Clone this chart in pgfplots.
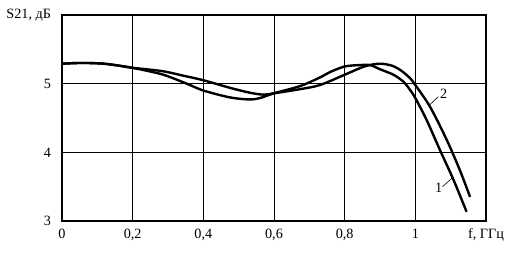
\documentclass[border=0pt]{standalone}
\usepackage{fontspec}
\setmainfont{Liberation Serif}
\usepackage{pgfplots}
\pgfplotsset{compat=1.18}
\begin{document}
\fontsize{14.2}{16}\selectfont
\begin{tikzpicture}
\useasboundingbox (-62pt,-32pt) rectangle (452pt,221pt);
\begin{axis}[
  at={(0,0)}, anchor=south west,
  scale only axis,
  width=424pt, height=206pt,
  xmin=0, xmax=1.2, ymin=3, ymax=6,
  xtick={0,0.2,0.4,0.6,0.8,1,1.2},
  xticklabels={0,{0,2},{0,4},{0,6},{0,8},1,{f, ГГц}},
  ytick={3,4,5,6},
  yticklabels={3,4,5,{S21, дБ}},
  major tick length=0pt,
  grid=major,
  grid style={black, line width=1pt},
  axis line style={black, line width=2.6pt},
  xticklabel style={yshift=-3pt, font=\fontsize{14.2}{16}\selectfont},
  yticklabel style={xshift=-6pt, font=\fontsize{14.2}{16}\selectfont},
  clip=false,
]
% curve 1
\addplot[black, line width=2.4pt, smooth, tension=0.5] coordinates {
(0,5.29) (0.04,5.30) (0.08,5.30) (0.12,5.29) (0.164,5.26) (0.2,5.23)
(0.22,5.21) (0.287,5.13) (0.353,5.00) (0.40,4.90) (0.475,4.80) (0.53,4.77)
(0.56,4.79) (0.6,4.86) (0.674,4.965) (0.73,5.09) (0.759,5.17) (0.8,5.25)
(0.84,5.27) (0.872,5.27) (0.9,5.21) (0.938,5.13) (0.966,5.03) (0.985,4.91)
(1.0,4.79) (1.032,4.47) (1.07,4.03) (1.108,3.60) (1.145,3.135)
};
% curve 2
\addplot[black, line width=2.4pt, smooth, tension=0.5] coordinates {
(0,5.29) (0.04,5.30) (0.08,5.30) (0.12,5.29) (0.164,5.26) (0.2,5.23)
(0.22,5.22) (0.287,5.18) (0.34,5.12) (0.40,5.05) (0.475,4.94) (0.53,4.87)
(0.57,4.84) (0.6,4.86) (0.674,4.92) (0.73,4.98) (0.8,5.13) (0.85,5.24)
(0.88,5.28) (0.905,5.29) (0.935,5.26) (0.96,5.19) (0.985,5.08) (1.0,4.98)
(1.042,4.66) (1.089,4.18) (1.126,3.74) (1.155,3.35)
};
\draw[black, line width=0.6pt] (axis cs:1.040,4.69) -- (axis cs:1.065,4.81);
\node[font=\fontsize{14.2}{16}\selectfont, inner sep=0pt] at (axis cs:1.080,4.85) {2};
\draw[black, line width=0.6pt] (axis cs:1.077,3.50) -- (axis cs:1.103,3.62);
\node[font=\fontsize{14.2}{16}\selectfont, inner sep=0pt] at (axis cs:1.066,3.49) {1};
\end{axis}
\end{tikzpicture}
\end{document}
